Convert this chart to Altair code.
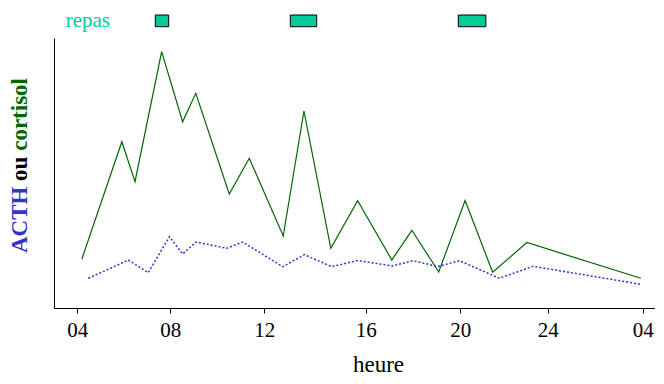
import altair as alt
import pandas as pd

# cortisol (green) : time in hours, relative level
cort_h = [4.19, 5.89, 6.45, 7.58, 8.47, 9.03, 10.45, 11.30, 12.74, 13.62, 14.76, 15.90,
          17.35, 18.20, 19.34, 20.46, 21.63, 23.08, 27.92]
cort_v = [48.7, 166.3, 126.3, 256.3, 186.3, 214.7, 114.0, 149.7, 72.0, 197.0, 59.7, 107.3,
          48.0, 77.7, 36.0, 107.5, 35.7, 65.5, 29.7]

# ACTH (blue, dotted)
acth_h = [4.47, 6.17, 7.01, 7.91, 8.47, 9.04, 10.34, 11.02, 12.72, 13.64, 14.80, 15.90,
          17.38, 18.23, 19.31, 20.22, 21.91, 23.34, 27.92]
acth_v = [29.7, 48.0, 35.3, 71.3, 54.0, 66.0, 59.7, 66.0, 41.3, 53.3, 41.3, 47.5,
          42.0, 47.3, 41.5, 47.3, 29.7, 41.7, 23.7]

# meals (repas)
meal_start = [7.31, 13.04, 20.17]
meal_end = [7.88, 14.16, 21.34]

# x axis ticks
tick_pos = [4.0, 7.948, 11.938, 16.242, 20.258, 23.968, 28.0]
tick_lab = ["04", "08", "12", "16", "20", "24", "04"]

FONT = "Times New Roman, Liberation Serif, DejaVu Serif, serif"
GREEN = "#006600"
BLUE = "#3333cc"
TEAL = "#00cc99"

df_c = pd.DataFrame({"h": cort_h, "v": cort_v})
df_a = pd.DataFrame({"h": acth_h, "v": acth_v})
df_m = pd.DataFrame({"s": meal_start, "e": meal_end})

label_expr = "[" + ",".join(f"'{t}'" for t in tick_lab) + "][indexof([" + ",".join(str(p) for p in tick_pos) + "], datum.value)]"

xscale = alt.Scale(domain=[3.011, 28.52], nice=False, zero=False)
yscale = alt.Scale(domain=[0, 270], nice=False, zero=False)

xaxis = alt.Axis(values=tick_pos, labelExpr=label_expr, grid=False, title="heure",
                 labelFont=FONT, labelFontSize=21, labelColor="black", labelPadding=6,
                 tickSize=5, tickColor="black", domainColor="black",
                 titleFont=FONT, titleFontSize=23, titleFontWeight="normal", titleColor="black",
                 titlePadding=13, titleX=324, titleAlign="center", labelFlush=False)
yaxis = alt.Axis(grid=False, ticks=False, labels=False, title=None, domainColor="black")

green = alt.Chart(df_c).mark_line(color=GREEN, strokeWidth=1.2).encode(
    x=alt.X("h:Q", scale=xscale, axis=xaxis),
    y=alt.Y("v:Q", scale=yscale, axis=yaxis),
)
blue = alt.Chart(df_a).mark_line(color=BLUE, strokeWidth=1.5, strokeDash=[2, 2]).encode(
    x=alt.X("h:Q", scale=xscale),
    y=alt.Y("v:Q", scale=yscale),
)
meals = alt.Chart(df_m).mark_rect(fill=TEAL, stroke="black", strokeWidth=1, clip=False).encode(
    x=alt.X("s:Q", scale=xscale),
    x2="e:Q",
    y=alt.value(-23),
    y2=alt.value(-11.3),
)
repas = alt.Chart(pd.DataFrame({"t": ["repas"]})).mark_text(
    font=FONT, fontSize=21, color=TEAL, align="left", baseline="alphabetic"
).encode(x=alt.value(11.7), y=alt.value(-11.5), text="t:N")

ytitle_words = ["ACTH", "ou", "cortisol"]
ytitle_colors = [BLUE, "black", GREEN]
ytitle_y = [215, 142.9, 112.8]
ytitles = []
for w, c, yy in zip(ytitle_words, ytitle_colors, ytitle_y):
    ytitles.append(alt.Chart(pd.DataFrame({"t": [w]})).mark_text(
        font=FONT, fontSize=23, fontWeight="bold", color=c, angle=270,
        align="left", baseline="alphabetic"
    ).encode(x=alt.value(-27), y=alt.value(yy), text="t:N"))

chart = alt.layer(green, blue, meals, repas, *ytitles).properties(
    width=601, height=270,
    padding={"left": 46, "top": 30, "right": 0, "bottom": 68},
    autosize=alt.AutoSizeParams(type="none"),
    background="white",
).configure_view(stroke=None)

chart.save("out.html", embed_options={"renderer": "svg", "actions": False})
